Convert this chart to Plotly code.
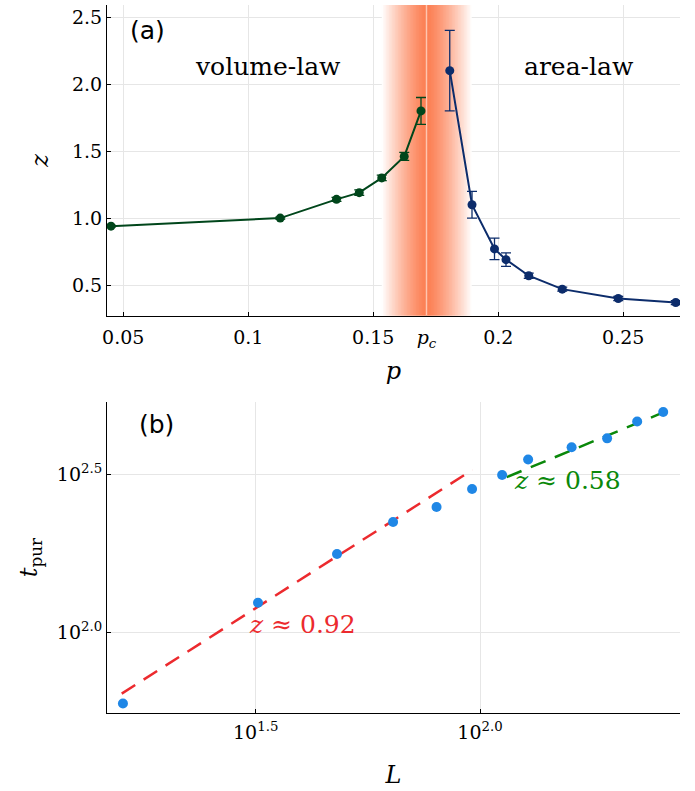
import numpy as np
import plotly.graph_objects as go
from plotly.subplots import make_subplots

# ---------------- data: panel (a) ----------------
p_vol = [0.0451, 0.1128, 0.1353, 0.1444, 0.1534, 0.1624, 0.1691]
z_vol = [0.94, 1.00, 1.14, 1.19, 1.30, 1.46, 1.80]
e_vol = [0.005, 0.008, 0.015, 0.02, 0.02, 0.03, 0.10]

p_area = [0.1806, 0.1895, 0.1985, 0.2031, 0.2122, 0.2256, 0.2480, 0.2710]
z_area = [2.10, 1.10, 0.77, 0.69, 0.57, 0.47, 0.40, 0.37]
e_area = [0.30, 0.10, 0.08, 0.05, 0.02, 0.015, 0.015, 0.015]

p_c = 0.1713
band_lo, band_hi = 0.1534, 0.1894

xtick_vals_a = [0.05, 0.1, 0.15, p_c, 0.2, 0.25]
xtick_text_a = ["0.05", "0.1", "0.15", "<i>p</i><sub><i>c</i></sub>", "0.2", "0.25"]
ytick_vals_a = [0.5, 1.0, 1.5, 2.0, 2.5]
ytick_text_a = ["0.5", "1.0", "1.5", "2.0", "2.5"]

# ---------------- data: panel (b) ----------------
L_vals = [16, 32, 48, 64, 80, 96, 112, 128, 160, 192, 224, 256]
t_vals = [59.3, 124, 177, 224, 250, 285, 316, 354, 387, 413, 467, 501]

fit1_L = [15.9, 96.2]      # z ~ 0.92 fit segment end points
fit1_t = [63.7, 328]
fit2_L = [114.7, 258.4]    # z ~ 0.58 fit segment end points
fit2_t = [311, 502]

xtick_vals_b = [10 ** 1.5, 10 ** 2.0]
xtick_text_b = ["10<sup>1.5</sup>", "10<sup>2.0</sup>"]
ytick_vals_b = [10 ** 2.0, 10 ** 2.5]
ytick_text_b = ["10<sup>2.0</sup>", "10<sup>2.5</sup>"]

# ---------------- styling ----------------
GREEN = "#00461b"
BLUE = "#0c2c6b"
PTBLUE = "#1f87e6"
RED = "#ec2a2e"
FITGREEN = "#0a880a"
SERIF = "DejaVu Serif"
SANS = "DejaVu Sans"

fig = make_subplots(rows=2, cols=1, vertical_spacing=0.122)

# gradient band around p_c (heatmap with bin edges)
edges = np.linspace(band_lo, band_hi, 121)
centers = 0.5 * (edges[:-1] + edges[1:])
tt = np.where(centers < p_c, (p_c - centers) / (p_c - band_lo), (centers - p_c) / (band_hi - p_c))
inten = np.clip(1 - tt ** 1.3, 0, 1)
fig.add_trace(go.Heatmap(x=edges, y=[0, 3], z=[inten.tolist()], zmin=0, zmax=1,
                         colorscale=[[0, "white"], [1, "rgb(252,126,82)"]],
                         showscale=False, hoverinfo="skip"), row=1, col=1)
fig.add_trace(go.Scatter(x=[p_c, p_c], y=[0, 3], mode="lines",
                         line=dict(color="rgba(255,205,185,0.9)", width=1.5),
                         hoverinfo="skip", showlegend=False), row=1, col=1)

fig.add_trace(go.Scatter(x=p_vol, y=z_vol, mode="lines+markers",
                         line=dict(color=GREEN, width=2), marker=dict(color=GREEN, size=9),
                         error_y=dict(type="data", array=e_vol, color=GREEN, thickness=1.3, width=5),
                         showlegend=False), row=1, col=1)
fig.add_trace(go.Scatter(x=p_area, y=z_area, mode="lines+markers",
                         line=dict(color=BLUE, width=2), marker=dict(color=BLUE, size=9),
                         error_y=dict(type="data", array=e_area, color=BLUE, thickness=1.3, width=5),
                         showlegend=False), row=1, col=1)

fig.add_trace(go.Scatter(x=fit1_L, y=fit1_t, mode="lines",
                         line=dict(color=RED, width=2.5, dash="16px,10px"), showlegend=False), row=2, col=1)
fig.add_trace(go.Scatter(x=fit2_L, y=fit2_t, mode="lines",
                         line=dict(color=FITGREEN, width=2.5, dash="16px,10px"), showlegend=False), row=2, col=1)
fig.add_trace(go.Scatter(x=L_vals, y=t_vals, mode="markers",
                         marker=dict(color=PTBLUE, size=10), showlegend=False), row=2, col=1)

axis_common = dict(showline=True, linecolor="black", linewidth=1, mirror=False,
                   showgrid=True, gridcolor="#e6e6e6", gridwidth=1, zeroline=False,
                   ticks="inside", ticklen=4, tickcolor="black", layer="below traces",
                   tickfont=dict(family=SERIF, size=19, color="black"))

fig.update_xaxes(**axis_common)
fig.update_yaxes(**axis_common)

TFONT = dict(family=SERIF, size=24, color="black")
fig.update_xaxes(range=[0.0435, 0.2727], tickmode="array", tickvals=xtick_vals_a, ticktext=xtick_text_a,
                 ticklabelstandoff=4,
                 title=dict(text="<i>p</i>", font=TFONT, standoff=12), row=1, col=1)
fig.update_yaxes(range=[0.271, 2.59], tickmode="array", tickvals=ytick_vals_a, ticktext=ytick_text_a,
                 title=dict(text="<i>z</i>", font=TFONT, standoff=16), row=1, col=1)
fig.update_xaxes(type="log", range=[1.1686, 2.4457], tickmode="array", tickvals=xtick_vals_b,
                 ticktext=xtick_text_b, ticklabelstandoff=2,
                 title=dict(text="<i>L</i>", font=TFONT, standoff=24), row=2, col=1)
fig.update_yaxes(type="log", range=[1.7426, 2.731], tickmode="array", tickvals=ytick_vals_b,
                 ticktext=ytick_text_b,
                 title=dict(text="<i>t</i><sub>pur</sub>", font=TFONT, standoff=12), row=2, col=1)

ann = [
    dict(text="(a)", x=0.0595, y=2.398, xref="x", yref="y", font=dict(family=SANS, size=25)),
    dict(text="volume-law", x=0.1077, y=2.13, xref="x", yref="y", font=dict(family=SERIF, size=25)),
    dict(text="area-law", x=0.2322, y=2.13, xref="x", yref="y", font=dict(family=SERIF, size=25)),
    dict(text="(b)", x=1.2794, y=2.659, xref="x2", yref="y2", font=dict(family=SANS, size=25)),
    dict(text="<i>z</i> ≈ 0.92", x=1.6054, y=2.023, xref="x2", yref="y2",
         font=dict(family=SERIF, size=25, color=RED)),
    dict(text="<i>z</i> ≈ 0.58", x=2.195, y=2.481, xref="x2", yref="y2",
         font=dict(family=SERIF, size=25, color=FITGREEN)),
]
for a in ann:
    a.setdefault("showarrow", False)
    a["font"].setdefault("color", "black")
    fig.add_annotation(**a)

fig.update_layout(width=695, height=791, margin=dict(l=107, r=15, t=5, b=78),
                  plot_bgcolor="white", paper_bgcolor="white", showlegend=False,
                  font=dict(family=SERIF, color="black"))
fig.update_yaxes(domain=[0.561, 1.0], row=1, col=1)
fig.update_yaxes(domain=[0.0, 0.439], row=2, col=1)

fig.write_html("out.html")
